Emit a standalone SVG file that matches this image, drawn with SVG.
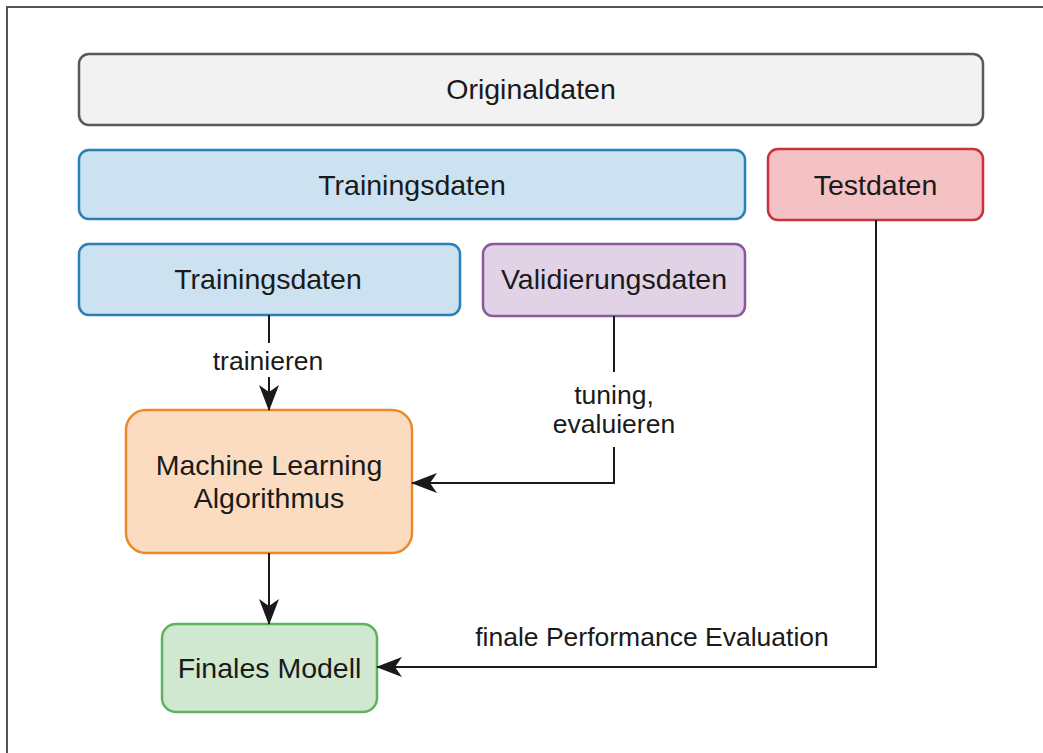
<svg xmlns="http://www.w3.org/2000/svg" width="1043" height="753" viewBox="0 0 1043 753">
  <style>
    .box { stroke-width: 2.5; }
    .t { font-family: "Liberation Sans", Arial, sans-serif; font-size: 28.5px; fill: #1a1a1a; text-anchor: middle; }
    .lbl { font-family: "Liberation Sans", Arial, sans-serif; font-size: 26.5px; fill: #1a1a1a; text-anchor: middle; }
    .edge { fill: none; stroke: #1a1a1a; stroke-width: 2; }
  </style>
  <defs>
    <marker id="arrow" viewBox="0 0 26 22" refX="25" refY="11" markerWidth="26" markerHeight="22" markerUnits="userSpaceOnUse" orient="auto">
      <path d="M0,1 L26,11 L0,21 L7,11 Z" fill="#1a1a1a"/>
    </marker>
  </defs>

  <rect width="1043" height="753" fill="#ffffff"/>
  <!-- frame -->
  <path d="M7,753 V7 H1043" fill="none" stroke="#555" stroke-width="2"/>

  <g id="originaldaten">
    <rect class="box" x="79" y="54" width="904" height="71" rx="10" fill="#f2f2f2" stroke="#595959"/>
    <text class="t" x="531" y="99">Originaldaten</text>
  </g>
  <g id="trainingsdaten-gesamt">
    <rect class="box" x="79" y="150" width="666" height="69" rx="10" fill="#cce2f1" stroke="#2b7fb8"/>
    <text class="t" x="412" y="195">Trainingsdaten</text>
  </g>
  <g id="testdaten">
    <rect class="box" x="768" y="149" width="215" height="71" rx="10" fill="#f4c2c4" stroke="#c9323a"/>
    <text class="t" x="875.5" y="195">Testdaten</text>
  </g>
  <g id="trainingsdaten">
    <rect class="box" x="79" y="244" width="381" height="71" rx="10" fill="#cce2f1" stroke="#2b7fb8"/>
    <text class="t" x="268" y="289">Trainingsdaten</text>
  </g>
  <g id="validierungsdaten">
    <rect class="box" x="483" y="244" width="262" height="72" rx="10" fill="#e1d2e6" stroke="#8a5a9c"/>
    <text class="t" x="614" y="289">Validierungsdaten</text>
  </g>
  <g id="ml-algorithmus">
    <rect class="box" x="126" y="410" width="286" height="143" rx="20" fill="#fcdcc0" stroke="#ea8a2a"/>
    <text class="t" x="269" y="475">Machine Learning</text>
    <text class="t" x="269" y="508">Algorithmus</text>
  </g>
  <g id="finales-modell">
    <rect class="box" x="162" y="624" width="215" height="88" rx="14" fill="#cfe8cf" stroke="#5fb35f"/>
    <text class="t" x="269.5" y="678">Finales Modell</text>
  </g>

  <g id="connectors">
    <path class="edge" d="M269,315 V343"/>
    <path class="edge" d="M269,377 V410" marker-end="url(#arrow)"/>
    <text class="lbl" x="268" y="370">trainieren</text>

    <path class="edge" d="M614,316 V372"/>
    <path class="edge" d="M614,447 V483 H412" marker-end="url(#arrow)"/>
    <text class="lbl" x="614" y="404">tuning,</text>
    <text class="lbl" x="614" y="433">evaluieren</text>

    <path class="edge" d="M269,553 V624" marker-end="url(#arrow)"/>

    <path class="edge" d="M876,220 V667 H377" marker-end="url(#arrow)"/>
    <text class="lbl" x="652" y="646">finale Performance Evaluation</text>
  </g>
</svg>
